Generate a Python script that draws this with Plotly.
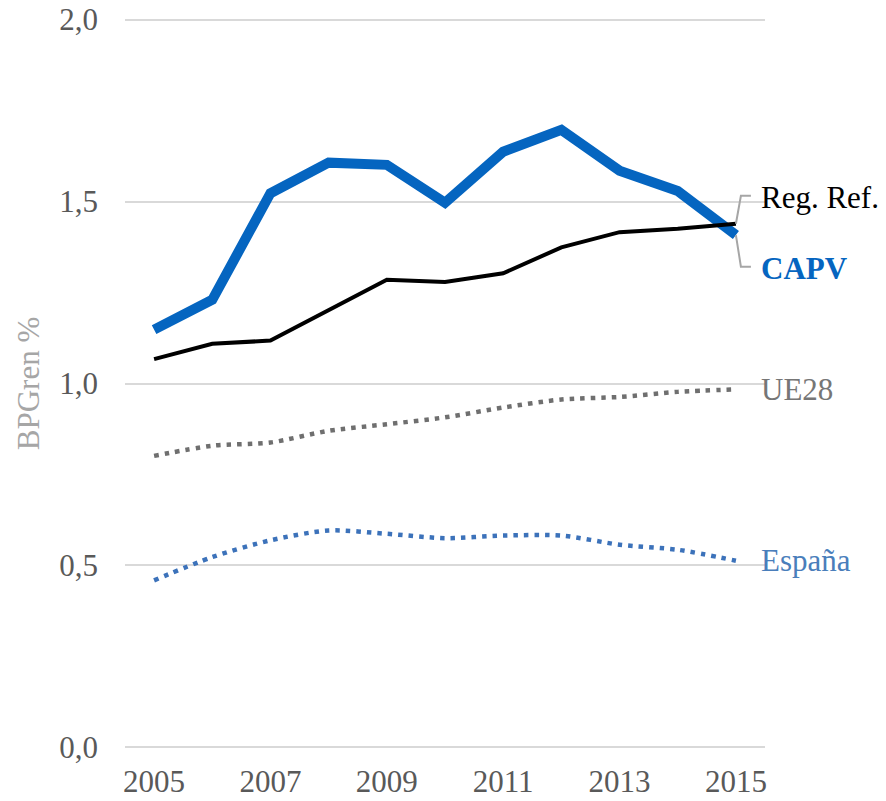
import plotly.graph_objects as go

years = [2005, 2006, 2007, 2008, 2009, 2010, 2011, 2012, 2013, 2014, 2015]
capv = [1.148, 1.230, 1.523, 1.607, 1.601, 1.497, 1.637, 1.697, 1.585, 1.529, 1.408]
reg_ref = [1.067, 1.109, 1.118, 1.200, 1.285, 1.279, 1.303, 1.374, 1.416, 1.425, 1.439]
ue28 = [0.801, 0.829, 0.838, 0.870, 0.888, 0.907, 0.934, 0.956, 0.963, 0.977, 0.984]
espana = [0.459, 0.523, 0.569, 0.596, 0.587, 0.575, 0.582, 0.582, 0.557, 0.543, 0.513]

x_ticks = [2005, 2007, 2009, 2011, 2013, 2015]
y_ticks = [0.0, 0.5, 1.0, 1.5, 2.0]
y_ticktext = ["0,0", "0,5", "1,0", "1,5", "2,0"]

FONT = "Liberation Serif"
C_CAPV = "#0565C0"
C_REG = "#000000"
C_UE = "#6F6F6F"
C_ES = "#3C72BA"

fig = go.Figure()
fig.add_trace(go.Scatter(x=years, y=ue28, mode="lines", name="UE28",
                         line=dict(color=C_UE, width=4.5, dash="4.5px,6px", shape="spline", smoothing=0.8)))
fig.add_trace(go.Scatter(x=years, y=espana, mode="lines", name="España",
                         line=dict(color=C_ES, width=4.5, dash="4.5px,6px", shape="spline", smoothing=0.8)))
fig.add_trace(go.Scatter(x=years, y=capv, mode="lines", name="CAPV",
                         line=dict(color=C_CAPV, width=10)))
fig.add_trace(go.Scatter(x=years, y=reg_ref, mode="lines", name="Reg. Ref.",
                         line=dict(color=C_REG, width=4)))

last = years[-1]
dx1 = 0.086
dx2 = 0.258
fig.add_shape(type="path", xref="x", yref="y",
              path=f"M {last} {reg_ref[-1]} L {last+dx1} 1.516 L {last+dx2} 1.516",
              line=dict(color="#A6A6A6", width=2))
fig.add_shape(type="path", xref="x", yref="y",
              path=f"M {last} {capv[-1]} L {last+dx1} 1.321 L {last+dx2} 1.321",
              line=dict(color="#A6A6A6", width=2))

def lab(text, y, color, yshift=0, bold=False):
    fig.add_annotation(x=last, y=y, xref="x", yref="y", text=(f"<b>{text}</b>" if bold else text),
                       showarrow=False, xanchor="left", yanchor="middle", xshift=23, yshift=yshift,
                       font=dict(family=FONT, size=31, color=color))

lab("Reg. Ref.", reg_ref[-1], C_REG, yshift=26)
lab("CAPV", capv[-1], C_CAPV, yshift=-33, bold=True)
lab("UE28", ue28[-1], "#767676")
lab("España", espana[-1], "#4A7EBB")

fig.update_layout(
    width=878, height=793,
    margin=dict(l=117, r=121, t=8, b=50, autoexpand=False),
    plot_bgcolor="white", paper_bgcolor="white",
    showlegend=False,
    font=dict(family=FONT, size=31, color="#595959"),
    xaxis=dict(range=[2004.5, 2015.5], tickvals=x_ticks, ticktext=[str(v) for v in x_ticks],
               showgrid=False, zeroline=False, showline=False, ticks="", automargin=False,
               ticklabeloverflow="allow",
               tickfont=dict(family=FONT, size=31, color="#595959"), ticklabelstandoff=9),
    yaxis=dict(range=[-0.01, 2.01], tickvals=y_ticks, ticktext=y_ticktext,
               showgrid=True, gridcolor="#D9D9D9", gridwidth=2, zeroline=False, showline=False,
               ticks="", automargin=False, ticklabeloverflow="allow",
               tickfont=dict(family=FONT, size=31, color="#595959"), ticklabelstandoff=26,
               title=dict(text="BPGren %", font=dict(family=FONT, size=31, color="#A6A6A6"), standoff=10)),
)

fig.write_html("out.html")
